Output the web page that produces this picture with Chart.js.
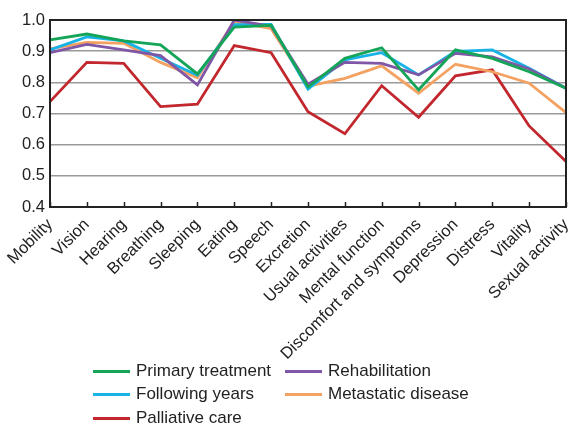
<!DOCTYPE html>
<html><head><meta charset="utf-8">
<script src="https://cdn.jsdelivr.net/npm/chart.js@4"></script>
<style>
html,body{margin:0;padding:0;background:#fff;}
#wrap{position:relative;width:571px;height:425px;}
#legend{position:absolute;left:0;top:0;width:571px;height:425px;pointer-events:none;font-family:"Liberation Sans",Arial,sans-serif;font-size:17px;color:#222;}
.li{position:absolute;display:flex;align-items:center;white-space:nowrap;}
.li span.sw{display:inline-block;width:37px;height:3px;margin-right:6px;}
</style></head>
<body><div id="wrap"><canvas id="c" width="571" height="425"></canvas><div id="legend"></div></div>
<script>
const categories = ["Mobility","Vision","Hearing","Breathing","Sleeping","Eating","Speech","Excretion","Usual activities","Mental function","Discomfort and symptoms","Depression","Distress","Vitality","Sexual activity"];
const primaryTreatment = [0.936,0.955,0.933,0.920,0.827,0.977,0.983,0.785,0.877,0.911,0.776,0.904,0.877,0.834,0.781];
const rehabilitation   = [0.895,0.922,0.904,0.886,0.792,1.000,0.980,0.794,0.864,0.861,0.824,0.893,0.882,0.843,0.781];
const followingYears   = [0.904,0.946,0.933,0.877,0.823,0.985,0.986,0.778,0.872,0.895,0.824,0.899,0.904,0.845,0.781];
const metastaticDisease= [0.907,0.928,0.925,0.864,0.815,0.995,0.972,0.788,0.813,0.853,0.765,0.858,0.834,0.797,0.703];
const palliativeCare   = [0.738,0.864,0.861,0.722,0.730,0.918,0.895,0.706,0.635,0.789,0.688,0.821,0.840,0.660,0.546];
const yTicks = [0.4,0.5,0.6,0.7,0.8,0.9,1.0];

const series = [
  {label:"Primary treatment", data:primaryTreatment, color:"#14a558", col:0,row:0},
  {label:"Rehabilitation", data:rehabilitation, color:"#7f57a6", col:1,row:0},
  {label:"Following years", data:followingYears, color:"#17b2e6", col:0,row:1},
  {label:"Metastatic disease", data:metastaticDisease, color:"#f4a262", col:1,row:1},
  {label:"Palliative care", data:palliativeCare, color:"#c1272d", col:0,row:2}
];

const font = {family:"'Liberation Sans', Arial, sans-serif", size:16.5};
const frame = {
  id:'frame',
  afterDatasetsDraw(chart){
    const {ctx, chartArea:a} = chart;
    const xs = chart.scales.x;
    ctx.save();
    ctx.strokeStyle='#222'; ctx.lineWidth=1.5;
    xs.ticks.forEach((t,i)=>{
      const x = Math.round(xs.getPixelForTick(i))+0.5;
      ctx.beginPath(); ctx.moveTo(x,a.bottom); ctx.lineTo(x,a.bottom-5); ctx.stroke();
    });
    ctx.lineWidth=2;
    ctx.strokeRect(a.left,a.top,a.right-a.left,a.bottom-a.top);
    ctx.restore();
  }
};

new Chart(document.getElementById('c'), {
  type:'line',
  data:{
    labels:categories,
    datasets:series.map(s=>({label:s.label,data:s.data,borderColor:s.color,backgroundColor:s.color,borderWidth:2.8,pointRadius:0,tension:0,fill:false}))
  },
  options:{
    responsive:false, animation:false,
    layout:{padding:{top:20,left:0,right:0,bottom:0}},
    plugins:{legend:{display:false},tooltip:{enabled:false}},
    scales:{
      x:{
        offset:false,
        grid:{display:false},
        border:{display:true,color:'#222',width:2},
        ticks:{color:'#222',font:font,maxRotation:45,minRotation:45,autoSkip:false,padding:0},
        afterFit(s){ s.height = 425-207; s.paddingRight = 5; }
      },
      y:{
        min:0.4,max:1.0,
        afterBuildTicks(s){ s.ticks = yTicks.map(v=>({value:v})); },
        grid:{color:'#9a9a9a',lineWidth:1.5,drawTicks:false},
        border:{display:true,color:'#222',width:2},
        ticks:{color:'#222',font:font,padding:5,callback:v=>v.toFixed(1)},
        afterFit(s){ s.width = 50; }
      }
    }
  },
  plugins:[frame]
});

const leg = document.getElementById('legend');
const colX=[93,285], rowY=[371,394,418];
series.forEach(s=>{
  const d=document.createElement('div'); d.className='li';
  d.style.left=colX[s.col]+'px'; d.style.top=(rowY[s.row]-10)+'px'; d.style.height='20px';
  const sw=document.createElement('span'); sw.className='sw'; sw.style.background=s.color;
  d.appendChild(sw); d.appendChild(document.createTextNode(s.label));
  leg.appendChild(d);
});
</script></body></html>
